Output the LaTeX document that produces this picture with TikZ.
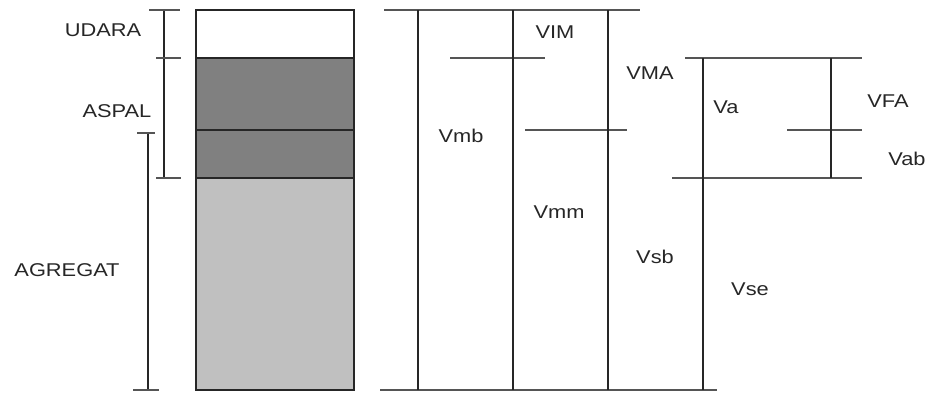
\documentclass[tikz,border=0pt]{standalone}
\usepackage{fontspec}
\setmainfont{Liberation Sans}
\usepackage{xcolor}
\usetikzlibrary{positioning}
\definecolor{aspalgray}{HTML}{808080}
\definecolor{agregatgray}{HTML}{C0C0C0}
\definecolor{inkgray}{HTML}{262626}
\definecolor{rulegray}{HTML}{555555}

\tikzset{
  lbl/.style={font=\fontsize{18.5}{20}\selectfont, text=inkgray, xscale=1.18, inner sep=0pt, anchor=base},
  vline/.style={inkgray, line width=1.7pt},
  hline/.style={rulegray, line width=1.4pt},
}

\begin{document}
\begin{tikzpicture}[x=1pt,y=-1pt]
    \useasboundingbox (0,0) rectangle (928,392);

    % sample column
    \fill[white] (196,10) rectangle (354,58);
    \fill[aspalgray] (196,58) rectangle (354,178);
    \fill[agregatgray] (196,178) rectangle (354,390);
    \draw[vline] (196,10) rectangle (354,390);
    \draw[vline] (196,58) -- (354,58);
    \draw[vline] (196,130) -- (354,130);
    \draw[vline] (196,178) -- (354,178);

    % dimension bars on the left
    \draw[vline] (164,10) -- (164,178);
    \draw[hline] (149,10) -- (180,10);
    \draw[hline] (156,58) -- (181,58);
    \draw[hline] (156,178) -- (181,178);
    \draw[vline] (148,133) -- (148,390);
    \draw[hline] (137,133) -- (155,133);
    \draw[hline] (133,390) -- (159,390);

    \node[lbl] (udara) at (103,36) {UDARA};
    \node[lbl] (aspal) at (117,117) {ASPAL};
    \node[lbl] (agregat) at (67,276) {AGREGAT};

    % volume diagram
    \draw[hline] (384,10) -- (640,10);
    \draw[hline] (380,390) -- (717,390);
    \draw[hline] (450,58) -- (545,58);
    \draw[hline] (525,130) -- (627,130);
    \draw[hline] (685,58) -- (862,58);
    \draw[hline] (787,130) -- (862,130);
    \draw[hline] (672,178) -- (862,178);
    \draw[vline] (418,10) -- (418,390);
    \draw[vline] (513,10) -- (513,390);
    \draw[vline] (608,10) -- (608,390);
    \draw[vline] (703,58) -- (703,390);
    \draw[vline] (831,58) -- (831,178);

    \node[lbl] (vim) at (555,38) {VIM};
    \node[lbl] (vma) at (650,79) {VMA};
    \node[lbl] (vmb) at (461,142) {Vmb};
    \node[lbl] (va) at (726,113) {Va};
    \node[lbl] (vfa) at (888,107) {VFA};
    \node[lbl] (vab) at (907,165) {Vab};
    \node[lbl] (vmm) at (559,218) {Vmm};
    \node[lbl] (vsb) at (655,263) {Vsb};
    \node[lbl] (vse) at (750,295) {Vse};
\end{tikzpicture}
\end{document}
